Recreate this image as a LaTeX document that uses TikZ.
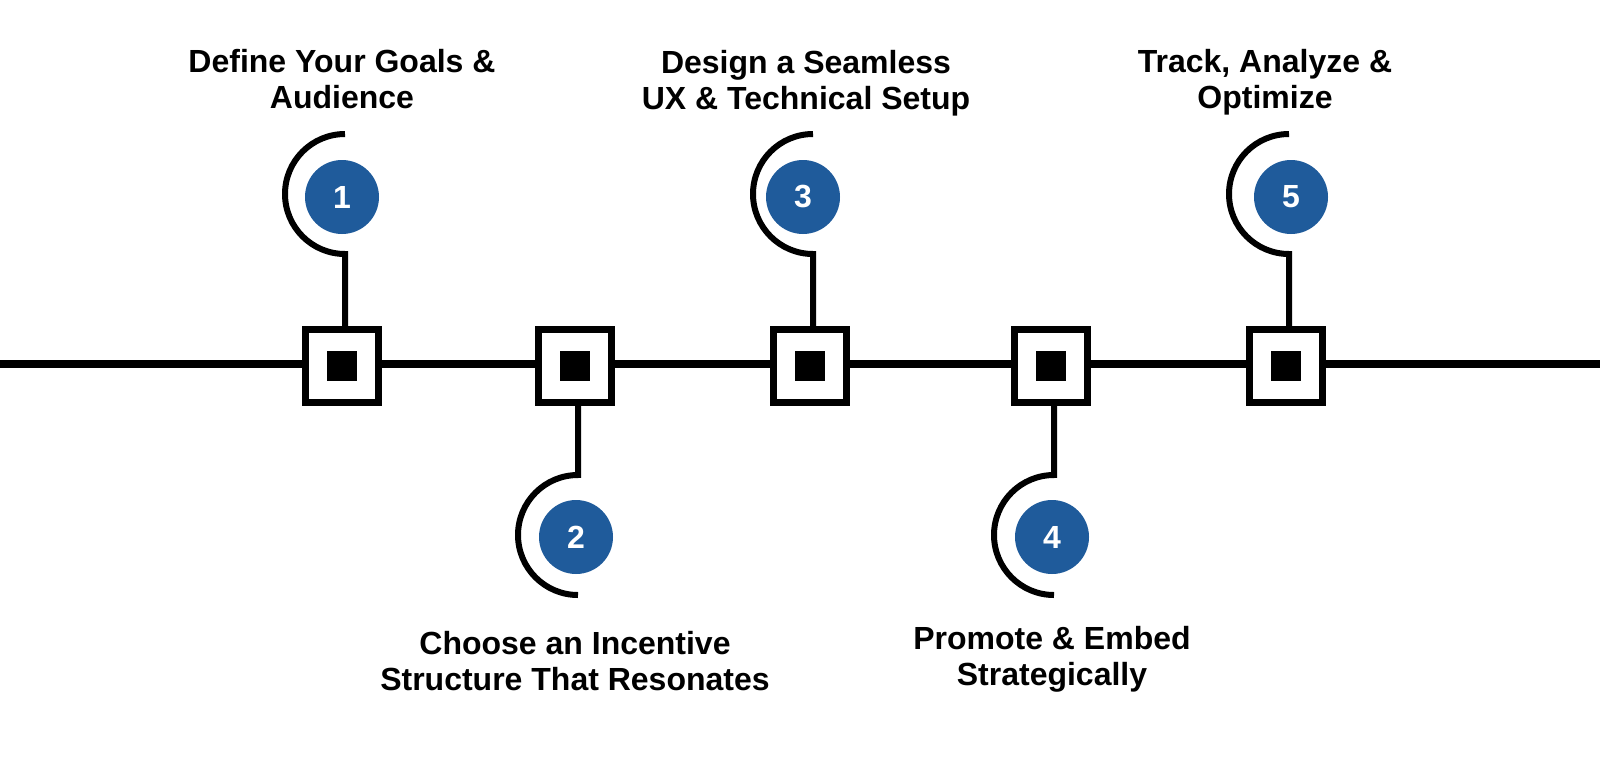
\documentclass[tikz,border=0pt]{standalone}
\usepackage{fontspec}
\setmainfont{Liberation Sans}
\definecolor{stepblue}{RGB}{31,91,155}
\tikzset{
	stepbox/.style = {draw, line width = 7pt, fill = white, minimum size = 73pt, inner sep = 0pt},
	dotbox/.style = {fill = black, minimum size = 30pt, inner sep = 0pt},
	numdot/.style = {circle, fill = stepblue, text = white, minimum size = 74pt, inner sep = 0pt, font = \fontsize{32}{32}\selectfont\bfseries},
	steplabel/.style = {align = center, font = \fontsize{32}{36}\selectfont\bfseries},
	hook/.style = {line width = 6pt}
}
\begin{document}
\begin{tikzpicture}[x = 1pt, y = -1pt]
	\useasboundingbox (0, 0) rectangle (1600, 761);
	% timeline
	\coordinate (lineL) at (0, 364);
	\coordinate (lineR) at (1600, 364);
	\foreach \i/\x in {1/342, 2/575, 3/810, 4/1051, 5/1286}
		\node[stepbox] (b\i) at (\x, 366) {};
	\draw[line width = 8pt] (lineL) -- (lineL -| b1.west);
	\draw[line width = 8pt] (lineL -| b1.east) -- (lineL -| b2.west);
	\draw[line width = 8pt] (lineL -| b2.east) -- (lineL -| b3.west);
	\draw[line width = 8pt] (lineL -| b3.east) -- (lineL -| b4.west);
	\draw[line width = 8pt] (lineL -| b4.east) -- (lineL -| b5.west);
	\draw[line width = 8pt] (lineL -| b5.east) -- (lineR);
	\foreach \i in {1, ..., 5}
		\node[dotbox] (d\i) at (b\i) {};
	% hooks above
	\foreach \i in {1, 3, 5}
		\draw[hook] ([xshift = 3pt]b\i.north) -- ++(0, -72) arc[start angle = 270, end angle = 90, radius = 60pt];
	% hooks below
	\foreach \i in {2, 4}
		\draw[hook] ([xshift = 3pt]b\i.south) -- ++(0, 69) arc[start angle = 90, end angle = 270, radius = 60pt];
	% numbers
	\node[numdot] (n1) at (342, 197) {1};
	\node[numdot] (n2) at (576, 537) {2};
	\node[numdot] (n3) at (803, 197) {3};
	\node[numdot] (n4) at (1052, 537) {4};
	\node[numdot] (n5) at (1291, 197) {5};
	% labels
	\node[steplabel] (t1) at (342, 79) {Define Your Goals \&\\Audience};
	\node[steplabel] (t2) at (575, 661) {Choose an Incentive\\Structure That Resonates};
	\node[steplabel] (t3) at (806, 83) {Design a Seamless\\UX \& Technical Setup};
	\node[steplabel] (t4) at (1052, 659) {Promote \& Embed\\Strategically};
	\node[steplabel] (t5) at (1265, 82) {Track, Analyze \&\\Optimize};
\end{tikzpicture}
\end{document}
